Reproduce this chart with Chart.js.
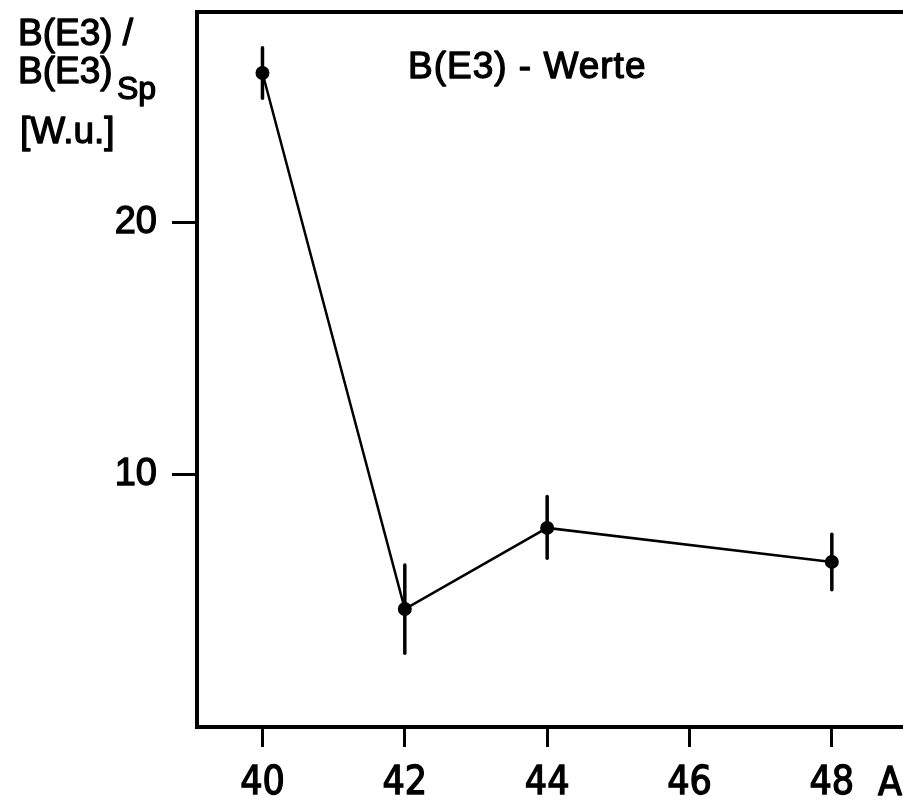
<!DOCTYPE html>
<html>
<head>
<meta charset="utf-8">
<script src="https://cdn.jsdelivr.net/npm/chart.js@4.4.1/dist/chart.umd.min.js"></script>
<style>
html,body{margin:0;padding:0;background:#fff;overflow:hidden;}
#wrap{width:903px;height:802px;}
</style>
</head>
<body>
<div id="wrap"><canvas id="c" width="903" height="802"></canvas></div>
<script>
// mass numbers and B(E3) values in W.u.
var massA=[40,42,44,48];
var bE3=[25.95,4.68,7.9,6.55];
var errUp=[1.0,1.75,1.25,1.1];
var errDown=[1.0,1.75,1.2,1.1];
var xTicks=[40,42,44,46,48];
var yTicks=[10,20];

var FONT='"Liberation Sans", Arial, sans-serif';
var NARROW='"Liberation Sans Narrow", "DejaVu Sans Condensed", sans-serif';

// fill + thin stroke so the lettering looks a bit heavier
function heavyText(ctx,txt,x,y){
    ctx.fillText(txt,x,y);
    ctx.strokeText(txt,x,y);
}

// vertical error bars drawn through the scales
var errorBars={
    id:'errorBars',
    afterDatasetsDraw:function(chart){
        var ctx=chart.ctx, xs=chart.scales.x, ys=chart.scales.y;
        ctx.save();
        ctx.strokeStyle='#000';
        ctx.lineWidth=3.5;
        ctx.lineCap='round';
        massA.forEach(function(a,i){
            var px=xs.getPixelForValue(a);
            ctx.beginPath();
            ctx.moveTo(px,ys.getPixelForValue(bE3[i]+errUp[i]));
            ctx.lineTo(px,ys.getPixelForValue(bE3[i]-errDown[i]));
            ctx.stroke();
        });
        ctx.restore();
    }
};

// top frame line plus the text labels
var decor={
    id:'decor',
    afterDraw:function(chart){
        var ctx=chart.ctx, ca=chart.chartArea;
        ctx.save();
        ctx.strokeStyle='#000';
        ctx.lineWidth=4;
        ctx.beginPath();
        ctx.moveTo(ca.left-2,ca.top);
        ctx.lineTo(ca.right,ca.top);
        ctx.stroke();

        ctx.fillStyle='#000';
        ctx.lineWidth=1.3;
        ctx.lineJoin='round';
        ctx.textBaseline='alphabetic';
        ctx.textAlign='left';
        ctx.font='37px '+FONT;
        heavyText(ctx,'B(E3) /',18,45);
        heavyText(ctx,'B(E3)',18,83);
        heavyText(ctx,'[W.u.]',20,143);
        ctx.font='32px '+FONT;
        heavyText(ctx,'Sp',117,99);

        ctx.font='37px '+FONT;
        ctx.letterSpacing='1px';
        heavyText(ctx,'B(E3) - Werte',408,78);
        ctx.letterSpacing='0px';

        ctx.font='39px '+NARROW;
        heavyText(ctx,'A',878,795);
        ctx.restore();
    }
};

new Chart(document.getElementById('c'),{
    type:'line',
    data:{datasets:[{
        data:massA.map(function(a,i){return {x:a,y:bE3[i]};}),
        borderColor:'#000',
        borderWidth:2.5,
        pointRadius:7,
        pointBackgroundColor:'#000',
        pointBorderColor:'#000',
        pointBorderWidth:0,
        tension:0
    }]},
    options:{
        responsive:false,
        animation:false,
        events:[],
        layout:{autoPadding:false,padding:{top:12,left:0,right:0,bottom:0}},
        plugins:{legend:{display:false},tooltip:{enabled:false},title:{display:false}},
        scales:{
            x:{
                type:'linear',min:39.08,max:49.0,
                afterFit:function(s){s.height=75;s.paddingLeft=0;s.paddingRight=0;},
                afterBuildTicks:function(s){s.ticks=xTicks.map(function(v){return {value:v};});},
                border:{display:true,color:'#000',width:4},
                grid:{drawOnChartArea:false,drawTicks:true,tickLength:20,tickWidth:3,tickColor:'#000'},
                ticks:{color:'#000',padding:13,maxRotation:0,textStrokeColor:'#000',textStrokeWidth:1.3,font:{family:NARROW,size:39}}
            },
            y:{
                type:'linear',min:0,max:28.37,
                afterFit:function(s){s.width=197;s.paddingTop=0;s.paddingBottom=0;},
                afterBuildTicks:function(s){s.ticks=yTicks.map(function(v){return {value:v};});},
                border:{display:true,color:'#000',width:4},
                grid:{drawOnChartArea:false,drawTicks:true,tickLength:25,tickWidth:3,tickColor:'#000'},
                ticks:{color:'#000',padding:15,textStrokeColor:'#000',textStrokeWidth:1.3,font:{family:FONT,size:38}}
            }
        }
    },
    plugins:[errorBars,decor]
});
</script>
</body>
</html>
